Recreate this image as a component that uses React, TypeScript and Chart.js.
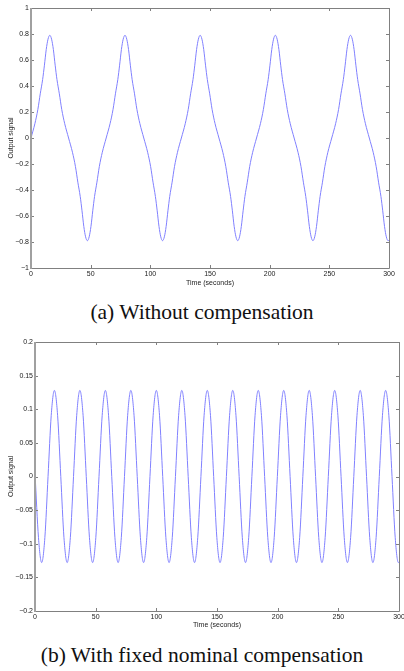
import React, { useEffect, useRef } from 'react';
import { Chart, registerables } from 'chart.js';

Chart.register(...registerables);

// ---------- Data: (a) Without compensation ----------
const timeA = [
  0, 3.25, 5.75, 7.75, 9.75, 11.25, 12.75, 14.25, 15.75, 17.25, 18.75, 20.25, 21.75, 23.75, 25.75, 28.25, 31.5,
  34.75, 37.25, 39.25, 41.25, 42.75, 44.25, 45.75, 47.25, 48.75, 50.25, 51.75, 53.25, 55.25, 57.25, 59.75, 63,
  66.25, 68.75, 70.75, 72.75, 74.25, 75.75, 77.25, 78.75, 80.25, 81.75, 83.25, 84.75, 86.75, 88.75, 91.25, 94.5,
  97.75, 100.25, 102.25, 104.25, 105.75, 107.25, 108.75, 110.25, 111.75, 113.25, 114.75, 116.25, 118.25, 120.25, 122.75, 126,
  129.25, 131.75, 133.75, 135.75, 137.25, 138.75, 140.25, 141.75, 143.25, 144.75, 146.25, 147.75, 149.75, 151.75, 154.25, 157.5,
  160.75, 163.25, 165.25, 167.25, 168.75, 170.25, 171.75, 173.25, 174.75, 176.25, 177.75, 179.25, 181.25, 183.25, 185.75, 189,
  192.25, 194.75, 196.75, 198.75, 200.25, 201.75, 203.25, 204.75, 206.25, 207.75, 209.25, 210.75, 212.75, 214.75, 217.25, 220.5,
  223.75, 226.25, 228.25, 230.25, 231.75, 233.25, 234.75, 236.25, 237.75, 239.25, 240.75, 242.25, 244.25, 246.25, 248.75, 252,
  255.25, 257.75, 259.75, 261.75, 263.25, 264.75, 266.25, 267.75, 269.25, 270.75, 272.25, 273.75, 275.75, 277.75, 280.25, 283.5,
  286.75, 289.25, 291.25, 293.25, 294.75, 296.25, 297.75, 299.25, 300,
];
const signalA = [
  0, 0.11, 0.22, 0.34, 0.45, 0.56, 0.68, 0.76, 0.79, 0.76, 0.68, 0.56, 0.45, 0.34, 0.22, 0.11, 0,
  -0.11, -0.22, -0.34, -0.45, -0.56, -0.68, -0.76, -0.79, -0.76, -0.68, -0.56, -0.45, -0.34, -0.22, -0.11, 0,
  0.11, 0.22, 0.34, 0.45, 0.56, 0.68, 0.76, 0.79, 0.76, 0.68, 0.56, 0.45, 0.34, 0.22, 0.11, 0,
  -0.11, -0.22, -0.34, -0.45, -0.56, -0.68, -0.76, -0.79, -0.76, -0.68, -0.56, -0.45, -0.34, -0.22, -0.11, 0,
  0.11, 0.22, 0.34, 0.45, 0.56, 0.68, 0.76, 0.79, 0.76, 0.68, 0.56, 0.45, 0.34, 0.22, 0.11, 0,
  -0.11, -0.22, -0.34, -0.45, -0.56, -0.68, -0.76, -0.79, -0.76, -0.68, -0.56, -0.45, -0.34, -0.22, -0.11, 0,
  0.11, 0.22, 0.34, 0.45, 0.56, 0.68, 0.76, 0.79, 0.76, 0.68, 0.56, 0.45, 0.34, 0.22, 0.11, 0,
  -0.11, -0.22, -0.34, -0.45, -0.56, -0.68, -0.76, -0.79, -0.76, -0.68, -0.56, -0.45, -0.34, -0.22, -0.11, 0,
  0.11, 0.22, 0.34, 0.45, 0.56, 0.68, 0.76, 0.79, 0.76, 0.68, 0.56, 0.45, 0.34, 0.22, 0.11, 0,
  -0.11, -0.22, -0.34, -0.45, -0.56, -0.68, -0.76, -0.79, -0.785,
];
const yTicksA = [-1, -0.8, -0.6, -0.4, -0.2, 0, 0.2, 0.4, 0.6, 0.8, 1];

// ---------- Data: (b) With fixed nominal compensation ----------
const timeB = [
  0, 2.875, 5.5, 8.125, 10.75, 13.375, 16, 18.625,
  21.25, 23.875, 26.5, 29.125, 31.75, 34.375, 37, 39.625,
  42.25, 44.875, 47.5, 50.125, 52.75, 55.375, 58, 60.625,
  63.25, 65.875, 68.5, 71.125, 73.75, 76.375, 79, 81.625,
  84.25, 86.875, 89.5, 92.125, 94.75, 97.375, 100, 102.625,
  105.25, 107.875, 110.5, 113.125, 115.75, 118.375, 121, 123.625,
  126.25, 128.875, 131.5, 134.125, 136.75, 139.375, 142, 144.625,
  147.25, 149.875, 152.5, 155.125, 157.75, 160.375, 163, 165.625,
  168.25, 170.875, 173.5, 176.125, 178.75, 181.375, 184, 186.625,
  189.25, 191.875, 194.5, 197.125, 199.75, 202.375, 205, 207.625,
  210.25, 212.875, 215.5, 218.125, 220.75, 223.375, 226, 228.625,
  231.25, 233.875, 236.5, 239.125, 241.75, 244.375, 247, 249.625,
  252.25, 254.875, 257.5, 260.125, 262.75, 265.375, 268, 270.625,
  273.25, 275.875, 278.5, 281.125, 283.75, 286.375, 289, 291.625,
  294.25, 296.875, 299.5, 300,
];
const signalB = [
  0.005, -0.091, -0.128, -0.091, 0, 0.091, 0.128, 0.091,
  0, -0.091, -0.128, -0.091, 0, 0.091, 0.128, 0.091,
  0, -0.091, -0.128, -0.091, 0, 0.091, 0.128, 0.091,
  0, -0.091, -0.128, -0.091, 0, 0.091, 0.128, 0.091,
  0, -0.091, -0.128, -0.091, 0, 0.091, 0.128, 0.091,
  0, -0.091, -0.128, -0.091, 0, 0.091, 0.128, 0.091,
  0, -0.091, -0.128, -0.091, 0, 0.091, 0.128, 0.091,
  0, -0.091, -0.128, -0.091, 0, 0.091, 0.128, 0.091,
  0, -0.091, -0.128, -0.091, 0, 0.091, 0.128, 0.091,
  0, -0.091, -0.128, -0.091, 0, 0.091, 0.128, 0.091,
  0, -0.091, -0.128, -0.091, 0, 0.091, 0.128, 0.091,
  0, -0.091, -0.128, -0.091, 0, 0.091, 0.128, 0.091,
  0, -0.091, -0.128, -0.091, 0, 0.091, 0.128, 0.091,
  0, -0.091, -0.128, -0.091, 0, 0.091, 0.128, 0.091,
  0, -0.091, -0.128, -0.127,
];
const yTicksB = [-0.2, -0.15, -0.1, -0.05, 0, 0.05, 0.1, 0.15, 0.2];

const xTicks = [0, 50, 100, 150, 200, 250, 300];

const AXIS_FONT = '"Liberation Sans", Arial, Helvetica, sans-serif';
const TEXT = '#222222';
const LINE = '#8080ff';

const fmt = (v: any) => {
  const r = Math.round(Number(v) * 1000) / 1000;
  if (r === 0) return '0';
  return r < 0 ? '\u2212' + String(-r) : String(r);
};

const boxPlugin = {
  id: 'matlabBox',
  afterDatasetsDraw(chart: any) {
    const { ctx, chartArea } = chart;
    const { left, right, top, bottom } = chartArea;
    const xs = chart.scales.x;
    const ys = chart.scales.y;
    ctx.save();
    ctx.strokeStyle = '#808080';
    ctx.lineWidth = 1;
    ctx.beginPath();
    ctx.moveTo(left, top + 0.5);
    ctx.lineTo(right + 0.5, top + 0.5);
    ctx.lineTo(right + 0.5, bottom + 0.5);
    ctx.lineTo(left, bottom + 0.5);
    ctx.stroke();
    // inward ticks
    ctx.beginPath();
    xs.ticks.forEach((t: any) => {
      const px = Math.round(xs.getPixelForValue(t.value)) + 0.5;
      ctx.moveTo(px, bottom);
      ctx.lineTo(px, bottom - 3);
      ctx.moveTo(px, top);
      ctx.lineTo(px, top + 3);
    });
    ys.ticks.forEach((t: any) => {
      const py = Math.round(ys.getPixelForValue(t.value)) + 0.5;
      ctx.moveTo(left, py);
      ctx.lineTo(left + 3, py);
      ctx.moveTo(right, py);
      ctx.lineTo(right - 3, py);
    });
    ctx.stroke();
    // left axis (thicker, lighter)
    ctx.strokeStyle = '#a0a0a0';
    ctx.lineWidth = 2;
    ctx.beginPath();
    ctx.moveTo(left, top);
    ctx.lineTo(left, bottom + 1);
    ctx.stroke();
    ctx.restore();
  },
};

type Props = {
  times: number[];
  values: number[];
  yTicks: number[];
  width: number;
  height: number;
  padding: { top: number; right: number; left: number; bottom: number };
  yWidth: number;
  xHeight: number;
  xTitlePad: number;
};

function SignalChart(p: Props) {
  const ref = useRef<HTMLCanvasElement | null>(null);
  useEffect(() => {
    if (!ref.current) return;
    const font = { family: AXIS_FONT, size: 7 };
    const yMin = p.yTicks[0];
    const yMax = p.yTicks[p.yTicks.length - 1];
    const chart = new Chart(ref.current, {
      type: 'line',
      data: {
        datasets: [
          {
            data: p.times.map((t, i) => ({ x: t, y: p.values[i] })),
            borderColor: LINE,
            borderWidth: 1,
            pointRadius: 0,
            fill: false,
            cubicInterpolationMode: 'monotone',
          },
        ],
      },
      options: {
        animation: false,
        responsive: false,
        maintainAspectRatio: false,
        events: [],
        layout: { padding: p.padding },
        plugins: { legend: { display: false }, tooltip: { enabled: false } },
        scales: {
          x: {
            type: 'linear',
            min: 0,
            max: 300,
            grid: { display: false, drawTicks: false },
            border: { display: false },
            afterBuildTicks: (s: any) => {
              s.ticks = xTicks.map((v) => ({ value: v }));
            },
            afterFit: (s: any) => {
              s.height = p.xHeight;
              s.paddingLeft = 0;
              s.paddingRight = 0;
            },
            ticks: { font, color: TEXT, padding: 2, maxRotation: 0, autoSkip: false },
            title: {
              display: true,
              text: 'Time (seconds)',
              font,
              color: TEXT,
              padding: { top: 0, bottom: p.xTitlePad },
            },
          },
          y: {
            type: 'linear',
            min: yMin,
            max: yMax,
            grid: { display: false, drawTicks: false },
            border: { display: false },
            afterBuildTicks: (s: any) => {
              s.ticks = p.yTicks.map((v) => ({ value: v }));
            },
            afterFit: (s: any) => {
              s.width = p.yWidth;
              s.paddingTop = 0;
              s.paddingBottom = 0;
            },
            ticks: { font, color: TEXT, padding: 2, autoSkip: false, callback: fmt },
            title: {
              display: true,
              text: 'Output signal',
              font,
              color: TEXT,
              padding: { top: 7, bottom: 0 },
            },
          },
        },
      } as any,
      plugins: [boxPlugin as any],
    } as any);
    return () => chart.destroy();
  }, []);
  return (
    <canvas
      ref={ref}
      width={p.width}
      height={p.height}
      style={{ display: 'block', width: p.width, height: p.height }}
    />
  );
}

const captionStyle: React.CSSProperties = {
  position: 'absolute',
  left: 0,
  width: 404,
  height: 26,
  lineHeight: '26px',
  textAlign: 'center',
  fontFamily: '"Liberation Serif", "Times New Roman", Times, serif',
  fontSize: 21.5,
  color: '#111',
  whiteSpace: 'nowrap',
};

export default function App() {
  return (
    <div
      style={{
        position: 'absolute',
        left: 0,
        top: 0,
        width: 404,
        height: 671,
        background: '#ffffff',
        overflow: 'hidden',
      }}
    >
      <div style={{ position: 'absolute', left: 0, top: 0 }}>
        <SignalChart
          times={timeA}
          values={signalA}
          yTicks={yTicksA}
          width={404}
          height={290}
          padding={{ top: 8, right: 15, left: 0, bottom: 0 }}
          yWidth={31}
          xHeight={22}
          xTitlePad={3}
        />
      </div>
      <div style={{ ...captionStyle, top: 299 }}>(a) Without compensation</div>
      <div style={{ position: 'absolute', left: 0, top: 331 }}>
        <SignalChart
          times={timeB}
          values={signalB}
          yTicks={yTicksB}
          width={404}
          height={300}
          padding={{ top: 11, right: 5, left: 0, bottom: 0 }}
          yWidth={35}
          xHeight={20}
          xTitlePad={2}
        />
      </div>
      <div style={{ ...captionStyle, top: 642 }}>(b) With fixed nominal compensation</div>
    </div>
  );
}
